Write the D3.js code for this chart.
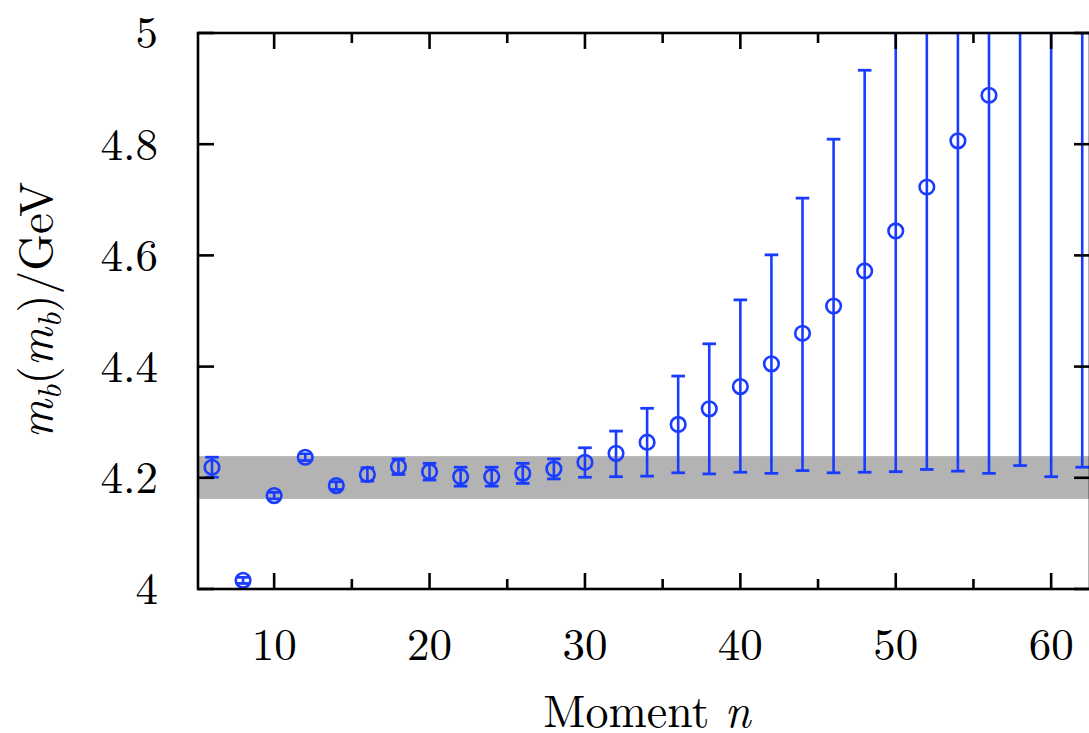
<!DOCTYPE html>
<html>
<head>
<meta charset="utf-8">
<script src="https://cdn.jsdelivr.net/npm/d3@7"></script>
<style>
  html, body { margin: 0; padding: 0; background: #fff; overflow: hidden; }
  svg { display: block; }
  text { font-family: "Latin Modern Roman", "CMU Serif", "Liberation Serif", "DejaVu Serif", serif; fill: #000; }
</style>
</head>
<body>
<svg id="chart" width="1089" height="733"></svg>
<script>
// Moment n
const moments = [6, 8, 10, 12, 14, 16, 18, 20, 22, 24, 26, 28, 30, 32, 34, 36, 38, 40, 42, 44, 46, 48, 50, 52, 54, 56, 58, 60, 62];
// central values m_b(m_b) in GeV
const mbValues = [4.219, 4.0156, 4.168, 4.237, 4.186, 4.206, 4.220, 4.211, 4.202, 4.202, 4.208, 4.216, 4.228, 4.244, 4.264, 4.296, 4.324, 4.364, 4.405, 4.460, 4.509, 4.572, 4.644, 4.723, 4.806, 4.888, 5.05, 5.15, 5.25];
// lower ends of error bars
const mbLower = [4.201, 4.010, 4.162, 4.231, 4.179, 4.194, 4.206, 4.196, 4.185, 4.185, 4.190, 4.198, 4.201, 4.202, 4.203, 4.209, 4.207, 4.210, 4.208, 4.213, 4.209, 4.210, 4.211, 4.215, 4.212, 4.208, 4.222, 4.202, 4.219];
// upper ends of error bars
const mbUpper = [4.237, 4.021, 4.174, 4.243, 4.193, 4.218, 4.234, 4.226, 4.219, 4.219, 4.226, 4.234, 4.254, 4.284, 4.325, 4.383, 4.441, 4.520, 4.601, 4.703, 4.809, 4.933, 5.10, 5.25, 5.40, 5.60, 5.80, 6.00, 6.20];
// combined result band
const bandRange = [4.162, 4.239];
// axis ticks
const xMajorTicks = [10, 20, 30, 40, 50, 60];
const xMinorTicks = [15, 25, 35, 45, 55];
const yTicks = [4, 4.2, 4.4, 4.6, 4.8, 5];
const yTickLabels = ["4", "4.2", "4.4", "4.6", "4.8", "5"];

(function () {
const data = moments.map((n, i) => ({ n, v: mbValues[i], lo: mbLower[i], hi: mbUpper[i] }));

const svg = d3.select("#chart");
const pL = 198, pR = 1090, pT = 33, pB = 589;
const x = d3.scaleLinear().domain([5.1, 62.5]).range([pL, pR]);
const y = d3.scaleLinear().domain([4, 5]).range([pB, pT]);
const blue = "#1a3cff";

svg.append("defs").append("clipPath").attr("id", "clip")
  .append("rect").attr("x", pL).attr("y", pT).attr("width", pR - pL).attr("height", pB - pT);

// band
svg.append("rect")
  .attr("x", pL).attr("width", pR - pL)
  .attr("y", y(bandRange[1])).attr("height", y(bandRange[0]) - y(bandRange[1]))
  .attr("fill", "#b3b3b3");

// error bars & points
const g = svg.append("g").attr("clip-path", "url(#clip)");
const capW = 6.8;
g.selectAll(".eb").data(data).join("line")
  .attr("x1", d => x(d.n)).attr("x2", d => x(d.n))
  .attr("y1", d => y(d.lo)).attr("y2", d => y(d.hi))
  .attr("stroke", blue).attr("stroke-width", 2.6);
g.selectAll(".capLo").data(data).join("line")
  .attr("x1", d => x(d.n) - capW).attr("x2", d => x(d.n) + capW)
  .attr("y1", d => y(d.lo)).attr("y2", d => y(d.lo))
  .attr("stroke", blue).attr("stroke-width", 2.8);
g.selectAll(".capHi").data(data).join("line")
  .attr("x1", d => x(d.n) - capW).attr("x2", d => x(d.n) + capW)
  .attr("y1", d => y(d.hi)).attr("y2", d => y(d.hi))
  .attr("stroke", blue).attr("stroke-width", 2.8);
g.selectAll(".pt").data(data).join("circle")
  .attr("cx", d => x(d.n)).attr("cy", d => y(d.v)).attr("r", 7.3)
  .attr("fill", "none").attr("stroke", blue).attr("stroke-width", 2.6);

// frame
svg.append("rect").attr("x", pL).attr("y", pT).attr("width", pR - pL).attr("height", pB - pT)
  .attr("stroke", "#000").attr("stroke-width", 2.6).attr("fill", "none");

// ticks (inward, mirrored)
const tickG = svg.append("g").attr("stroke", "#000").attr("stroke-width", 2.6);
xMajorTicks.forEach(t => {
  tickG.append("line").attr("x1", x(t)).attr("x2", x(t)).attr("y1", pB).attr("y2", pB - 16);
  tickG.append("line").attr("x1", x(t)).attr("x2", x(t)).attr("y1", pT).attr("y2", pT + 16);
});
xMinorTicks.forEach(t => {
  tickG.append("line").attr("x1", x(t)).attr("x2", x(t)).attr("y1", pB).attr("y2", pB - 10);
  tickG.append("line").attr("x1", x(t)).attr("x2", x(t)).attr("y1", pT).attr("y2", pT + 10);
});
yTicks.forEach(t => {
  tickG.append("line").attr("x1", pL).attr("x2", pL + 16).attr("y1", y(t)).attr("y2", y(t));
  tickG.append("line").attr("x1", pR).attr("x2", pR - 16).attr("y1", y(t)).attr("y2", y(t));
});

// tick labels
svg.append("g").selectAll("text").data(xMajorTicks).join("text")
  .attr("x", d => x(d)).attr("y", 660)
  .attr("text-anchor", "middle").attr("font-size", 45)
  .text(d => d);
svg.append("g").selectAll("text").data(yTicks).join("text")
  .attr("x", 158).attr("y", d => y(d)).attr("dy", "0.34em")
  .attr("text-anchor", "end").attr("font-size", 45)
  .text((d, i) => yTickLabels[i]);

// axis titles
const xt = svg.append("text").attr("x", 647).attr("y", 727)
  .attr("text-anchor", "middle").attr("font-size", 46);
xt.append("tspan").text("Moment ");
xt.append("tspan").attr("font-style", "italic").text("n");

const yt = svg.append("text")
  .attr("transform", "translate(52,310) rotate(-90)")
  .attr("text-anchor", "middle").attr("font-size", 47);
yt.append("tspan").attr("font-style", "italic").text("m");
yt.append("tspan").attr("font-style", "italic").attr("font-size", 33).attr("dy", 9).text("b");
yt.append("tspan").attr("dy", -9).text("(");
yt.append("tspan").attr("font-style", "italic").text("m");
yt.append("tspan").attr("font-style", "italic").attr("font-size", 33).attr("dy", 9).text("b");
yt.append("tspan").attr("dy", -9).text(")/GeV");
})();
</script>
</body>
</html>
